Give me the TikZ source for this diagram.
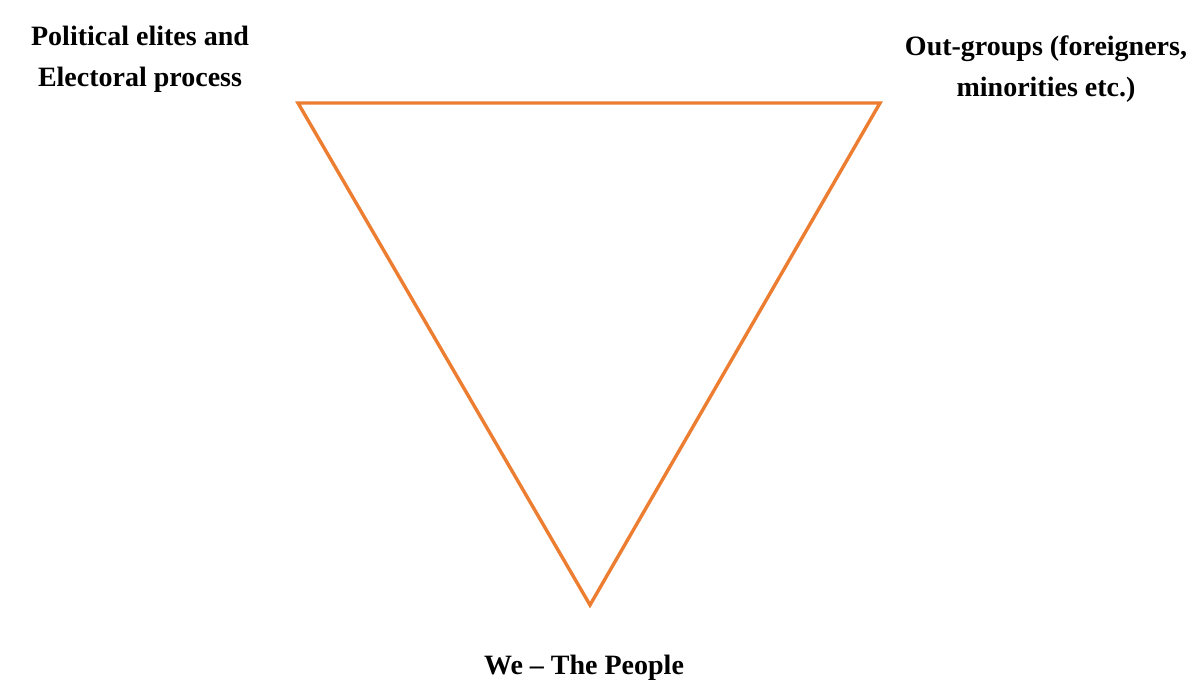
\documentclass[tikz,border=0pt]{standalone}
\usepackage{fontspec}
\setmainfont{Liberation Serif}
\usetikzlibrary{positioning, calc}
\definecolor{triorange}{RGB}{237,125,49}

\begin{document}
\begin{tikzpicture}[
    x=0.5pt, y=-0.5pt,
    label/.style={align=center, inner sep=0pt, font=\bfseries\fontsize{14}{20.5}\selectfont},
    edge/.style={draw=triorange, line width=1.7pt, line join=miter}
]
    \useasboundingbox (0,0) rectangle (1198,696);

    % Corners of the triangle
    \coordinate (elites) at (298,103);
    \coordinate (outgroups) at (880,103);
    \coordinate (people) at (590,605);

    % Corner labels
    \node [label] (elitestext) at (140,59) {Political elites and\\Electoral process};
    \node [label] (outtext) at (1046,69) {Out-groups (foreigners,\\minorities etc.)};
    \node [label] (peopletext) at (584,668) {We -- The People};

    % Triangle
    \path [edge] (elites) -- (outgroups) -- (people) -- cycle;
\end{tikzpicture}
\end{document}
